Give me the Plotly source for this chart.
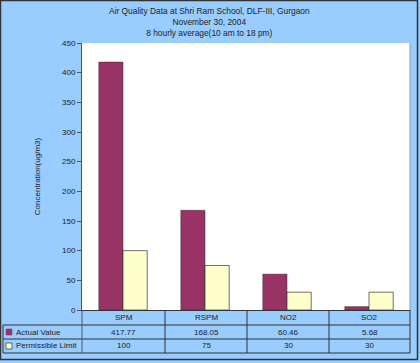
import plotly.graph_objects as go

categories = ["SPM", "RSPM", "NO2", "SO2"]
actual_values = [417.77, 168.05, 60.46, 5.68]
permissible_limit = [100, 75, 30, 30]
actual_labels = ["417.77", "168.05", "60.46", "5.68"]
limit_labels = ["100", "75", "30", "30"]
series_names = ["Actual Value", "Permissible Limit"]
title_lines = ["Air Quality Data at Shri Ram School, DLF-III, Gurgaon",
               "November 30, 2004",
               "8 hourly average(10 am to 18 pm)"]
y_title = "Concentration(ug/m3)"

W, H = 420, 363
ML, MR, MT, MB = 82, 10, 43, 53
PW, PH = W - ML - MR, H - MT - MB

def px(x):
    return (x - ML) / PW

def py(y):
    return (H - MB - y) / PH

BLUE = "#99CCFF"
ACT = "#993366"
LIM = "#FFFFCC"
FONT = "Liberation Sans, Arial, sans-serif"
TXT = "#222222"

fig = go.Figure()
fig.add_bar(x=categories, y=actual_values, name=series_names[0],
            marker=dict(color=ACT, line=dict(color="#333333", width=0.5)))
fig.add_bar(x=categories, y=permissible_limit, name=series_names[1],
            marker=dict(color=LIM, line=dict(color="#333333", width=0.7)))

shapes = []
line_c = "#333333"
for yy, x0 in [(325, 3), (339, 3), (353, 3)]:
    shapes.append(dict(type="line", xref="paper", yref="paper",
                       x0=px(x0), x1=px(410), y0=py(yy), y1=py(yy),
                       line=dict(color=line_c, width=1)))
for xx in [165, 247, 329, 410]:
    shapes.append(dict(type="line", xref="paper", yref="paper",
                       x0=px(xx), x1=px(xx), y0=py(310), y1=py(353),
                       line=dict(color=line_c, width=1)))
shapes.append(dict(type="line", xref="paper", yref="paper",
                   x0=px(82), x1=px(82), y0=py(310), y1=py(353),
                   line=dict(color="#555555", width=1)))
shapes.append(dict(type="line", xref="paper", yref="paper",
                   x0=px(3), x1=px(3), y0=py(325), y1=py(353),
                   line=dict(color=line_c, width=1)))
shapes.append(dict(type="line", xref="paper", yref="paper",
                   x0=1, x1=1, y0=0, y1=1, line=dict(color="#999999", width=1)))
shapes.append(dict(type="rect", xref="paper", yref="paper",
                   x0=px(0.5), x1=px(417.5), y0=py(359.5), y1=py(0.5),
                   line=dict(color="#333333", width=1.5)))
shapes.append(dict(type="rect", xref="paper", yref="paper",
                   x0=px(6), x1=px(12), y0=py(335), y1=py(329),
                   fillcolor=ACT, line=dict(color=ACT, width=0.5)))
shapes.append(dict(type="rect", xref="paper", yref="paper",
                   x0=px(6), x1=px(12), y0=py(349), y1=py(343),
                   fillcolor=LIM, line=dict(color="#333333", width=0.7)))

ann = []
tf = dict(family=FONT, size=8, color=TXT)
ann.append(dict(text="<br>".join(title_lines), xref="paper", yref="paper",
                x=px(W / 2 - 1), y=py(4), xanchor="center", yanchor="top",
                showarrow=False, font=dict(family=FONT, size=8.4, color=TXT)))
col_edges = [82, 165, 247, 329, 410]
for i, c in enumerate(categories):
    cx = (col_edges[i] + col_edges[i + 1]) / 2
    ann.append(dict(text=c, xref="paper", yref="paper", x=px(cx), y=py(317.5),
                    xanchor="center", yanchor="middle", showarrow=False, font=tf))
    ann.append(dict(text=actual_labels[i], xref="paper", yref="paper", x=px(cx), y=py(332),
                    xanchor="center", yanchor="middle", showarrow=False, font=tf))
    ann.append(dict(text=limit_labels[i], xref="paper", yref="paper", x=px(cx), y=py(346),
                    xanchor="center", yanchor="middle", showarrow=False, font=tf))
ann.append(dict(text=series_names[0], xref="paper", yref="paper", x=px(14), y=py(332),
                xanchor="left", yanchor="middle", showarrow=False, font=tf))
ann.append(dict(text=series_names[1], xref="paper", yref="paper", x=px(14), y=py(346),
                xanchor="left", yanchor="middle", showarrow=False, font=tf))

fig.update_layout(
    width=W, height=H,
    margin=dict(l=ML, r=MR, t=MT, b=MB, pad=0),
    paper_bgcolor=BLUE, plot_bgcolor="white",
    barmode="group", bargap=0.41, bargroupgap=0,
    showlegend=False,
    shapes=shapes, annotations=ann,
    font=dict(family=FONT, size=8, color=TXT),
    xaxis=dict(showticklabels=False, ticks="", showgrid=False, showline=True,
               linecolor="#333333", linewidth=1, zeroline=False),
    yaxis=dict(range=[0, 450], dtick=50, ticks="outside", ticklen=4,
               tickcolor="#555555", showline=True, linecolor="#555555", linewidth=1,
               showgrid=False, zeroline=False,
               tickfont=dict(family=FONT, size=8, color=TXT),
               title=dict(text=y_title, font=dict(family=FONT, size=8, color=TXT),
                          standoff=20)),
)

fig.write_html("out.html", config={"displayModeBar": False},
               post_script="document.body.style.margin='0';document.body.style.padding='0';document.body.style.overflow='hidden';")
